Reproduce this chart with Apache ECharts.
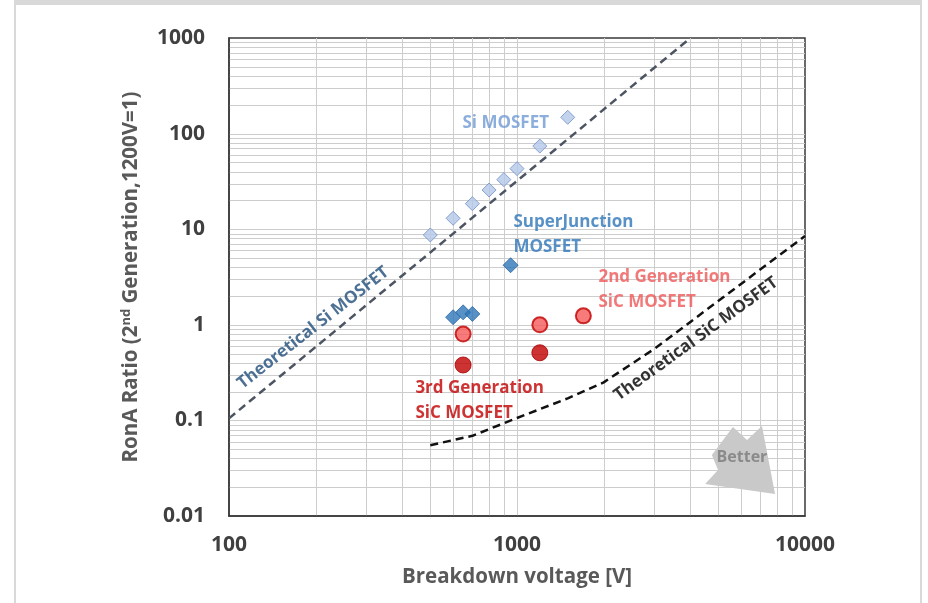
<!DOCTYPE html>
<html>
<head>
<meta charset="utf-8">
<script src="https://cdn.jsdelivr.net/npm/echarts@6/dist/echarts.min.js"></script>
<style>
  html, body { margin: 0; padding: 0; background: #ffffff; }
  #chart { width: 928px; height: 603px; }
</style>
</head>
<body>
<div id="chart"></div>
<script>
// RonA ratio versus breakdown voltage for Si and SiC power MOSFETs
const FONT = '"Open Sans", "Liberation Sans", sans-serif';

const siVoltage = [500, 600, 700, 800, 900, 1000, 1200, 1500];
const siRatio = [8.7, 13, 18.5, 25.7, 33, 43, 74, 148];

const sjVoltage = [600, 650, 700, 950];
const sjRatio = [1.2, 1.35, 1.3, 4.2];

const gen2Voltage = [650, 1200, 1700];
const gen2Ratio = [0.8, 1.0, 1.24];

const gen3Voltage = [650, 1200];
const gen3Ratio = [0.38, 0.51];

const siLimitVoltage = [100, 4000];
const siLimitRatio = [0.105, 1000];

const sicLimitVoltage = [500, 700, 1000, 1500, 2000, 3000, 10000];
const sicLimitRatio = [0.055, 0.069, 0.106, 0.17, 0.25, 0.56, 8.5];

const xTicks = [100, 1000, 10000];
const yTicks = [0.01, 0.1, 1, 10, 100, 1000];

const zip = (xs, ys) => xs.map((x, i) => [x, ys[i]]);

// Gridline values: every 1..9 step inside each decade, without the frame edges
function gridValues(ticks) {
  const out = [];
  for (let i = 0; i < ticks.length - 1; i++) {
    for (let k = 1; k <= 9; k++) {
      if (i === 0 && k === 1) continue;
      out.push(ticks[i] * k);
    }
  }
  return out;
}
const xGrid = gridValues(xTicks);
const yGrid = gridValues(yTicks);

const xMin = xTicks[0], xMax = xTicks[xTicks.length - 1];
const yMin = yTicks[0], yMax = yTicks[yTicks.length - 1];

const chart = echarts.init(document.getElementById('chart'), null, { renderer: 'canvas' });

const gridLineStyle = { stroke: '#cdcdcd', lineWidth: 1 };
const crisp = v => Math.round(v) + 0.5;

const noteFont = { fontFamily: FONT, fontWeight: 'bold', fontSize: 17 };
const tickLabel = {
  color: '#404040', fontFamily: FONT, fontWeight: 'bold', fontSize: 21,
  formatter: v => String(+Number(v).toPrecision(3))
};

// "Better" arrow outline in (voltage, ratio) space
const betterShape = [
  [5620, 0.0853], [6290, 0.0624], [7090, 0.0874], [7870, 0.0170],
  [4500, 0.0216], [4990, 0.0303], [4750, 0.0435]
];

const option = {
  backgroundColor: '#ffffff',
  animation: false,
  grid: {
    left: 229, right: 123, top: 38, bottom: 87,
    show: true, borderColor: '#3a3a3a', borderWidth: 1.5, backgroundColor: 'transparent'
  },
  xAxis: {
    type: 'log', logBase: 10, min: xMin, max: xMax, interval: 1,
    name: 'Breakdown voltage [V]', nameLocation: 'middle', nameGap: 51,
    nameTextStyle: { color: '#595959', fontFamily: FONT, fontWeight: 'bold', fontSize: 20.5 },
    axisLine: { show: true, lineStyle: { color: '#3a3a3a', width: 1.5 } },
    axisTick: { show: false },
    splitLine: { show: false },
    axisLabel: { ...tickLabel, margin: 19 }
  },
  yAxis: {
    type: 'log', logBase: 10, min: yMin, max: yMax, interval: 1,
    name: '{t|RonA Ratio (2}{s|nd}{t| Generation,1200V=1)}',
    nameLocation: 'middle', nameGap: 86,
    nameTextStyle: {
      rich: {
        t: { color: '#595959', fontFamily: FONT, fontWeight: 'bold', fontSize: 20.5 },
        s: { color: '#595959', fontFamily: FONT, fontWeight: 'bold', fontSize: 13, padding: [0, 0, 10, 0] }
      }
    },
    axisLine: { show: true, lineStyle: { color: '#3a3a3a', width: 1.5 } },
    axisTick: { show: false },
    splitLine: { show: false },
    axisLabel: { ...tickLabel, margin: 24 }
  },
  graphic: [
    { type: 'rect', shape: { x: 15, y: 0, width: 907, height: 5 }, style: { fill: '#d9d9d9' }, silent: true },
    { type: 'rect', shape: { x: 14, y: 0, width: 2, height: 603 }, style: { fill: '#d9d9d9' }, silent: true },
    { type: 'rect', shape: { x: 920, y: 0, width: 2, height: 603 }, style: { fill: '#d9d9d9' }, silent: true }
  ],
  series: [
    {
      name: 'vertical grid', type: 'custom', silent: true, z: 0,
      data: xGrid.map(v => [v, 1]),
      renderItem: (params, api) => {
        const v = api.value(0);
        const a = api.coord([v, yMin]);
        const b = api.coord([v, yMax]);
        return { type: 'line', shape: { x1: crisp(a[0]), y1: a[1], x2: crisp(a[0]), y2: b[1] }, style: gridLineStyle };
      }
    },
    {
      name: 'horizontal grid', type: 'custom', silent: true, z: 0,
      data: yGrid.map(v => [1000, v]),
      renderItem: (params, api) => {
        const v = api.value(1);
        const a = api.coord([xMin, v]);
        const b = api.coord([xMax, v]);
        return { type: 'line', shape: { x1: a[0], y1: crisp(a[1]), x2: b[0], y2: crisp(a[1]) }, style: gridLineStyle };
      }
    },
    {
      name: 'Better', type: 'custom', silent: true, z: 1,
      data: [betterShape[0]],
      renderItem: (params, api) => ({
        type: 'polygon',
        shape: { points: betterShape.map(p => api.coord(p)) },
        style: { fill: '#c9c9c9' }
      })
    },
    {
      name: 'Theoretical Si MOSFET', type: 'line', z: 2, symbol: 'none', silent: true,
      data: zip(siLimitVoltage, siLimitRatio),
      lineStyle: { color: '#4d5562', width: 2.5, type: [8, 5] }
    },
    {
      name: 'Theoretical SiC MOSFET', type: 'line', z: 2, symbol: 'none', silent: true,
      data: zip(sicLimitVoltage, sicLimitRatio),
      lineStyle: { color: '#111111', width: 2.5, type: [8, 5] }
    },
    {
      name: 'Si MOSFET', type: 'scatter', z: 3, symbol: 'diamond', symbolSize: 14,
      data: zip(siVoltage, siRatio),
      itemStyle: { color: '#b4c8e8', borderColor: '#6f8fc4', borderWidth: 1 }
    },
    {
      name: 'SuperJunction MOSFET', type: 'scatter', z: 3, symbol: 'diamond', symbolSize: 15,
      data: zip(sjVoltage, sjRatio),
      itemStyle: { color: '#2e75b6', borderColor: '#2a68a4', borderWidth: 1 }
    },
    {
      name: '2nd Generation SiC MOSFET', type: 'scatter', z: 3, symbol: 'circle', symbolSize: 15,
      data: zip(gen2Voltage, gen2Ratio),
      itemStyle: { color: '#f55a5a', borderColor: '#c00000', borderWidth: 2 }
    },
    {
      name: '3rd Generation SiC MOSFET', type: 'scatter', z: 3, symbol: 'circle', symbolSize: 16,
      data: zip(gen3Voltage, gen3Ratio),
      itemStyle: { color: '#c00000', borderColor: '#a80000', borderWidth: 1 }
    },
    {
      name: 'notes', type: 'scatter', z: 4, silent: true, symbolSize: 1,
      itemStyle: { color: 'rgba(0,0,0,0)' },
      label: { show: true, position: 'right', distance: 0, lineHeight: 25, ...noteFont },
      data: [
        { value: [644, 129], label: { formatter: 'Si MOSFET', color: '#6f9ad4' } },
        { value: [968, 8.8], label: { formatter: 'SuperJunction\nMOSFET', color: '#2e75b6' } },
        { value: [1910, 2.34], label: { formatter: '2nd Generation\nSiC MOSFET', color: '#ee5858' } },
        { value: [442, 0.16], label: { formatter: '3rd Generation\nSiC MOSFET', color: '#c00000' } },
        { value: [196, 0.93], label: { position: 'inside', rotate: 38, formatter: 'Theoretical Si MOSFET', color: '#1f4e79' } },
        { value: [4185, 0.71], label: { position: 'inside', rotate: 36, formatter: 'Theoretical SiC MOSFET', color: '#000000' } },
        { value: [6040, 0.0414], label: { position: 'inside', formatter: 'Better', color: '#7a7a7a', fontSize: 16 } }
      ]
    }
  ]
};

chart.setOption(option);
</script>
</body>
</html>
